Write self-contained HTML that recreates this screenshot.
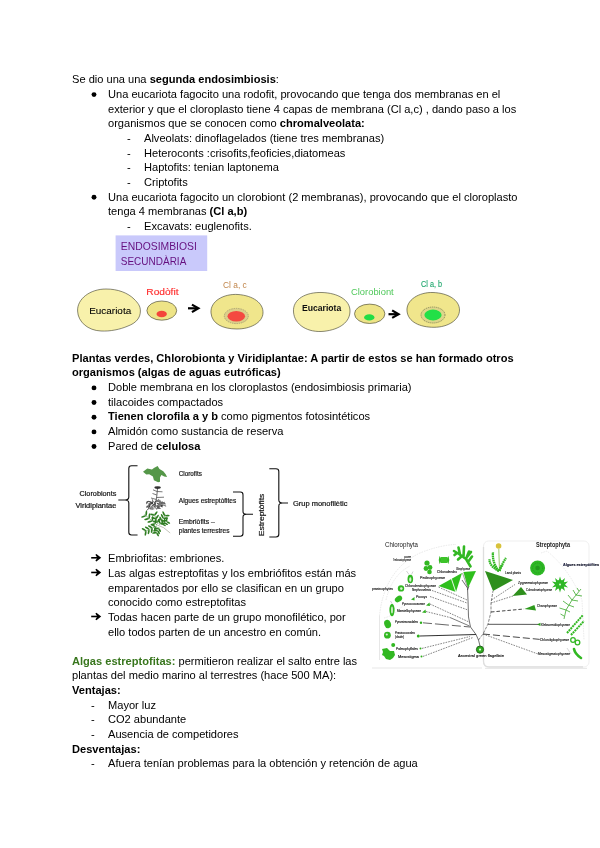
<!DOCTYPE html>
<html><head><meta charset="utf-8"><title>doc</title>
<style>
html,body{margin:0;padding:0;background:#fff;}
body{width:600px;height:848px;position:relative;overflow:hidden;font-family:"Liberation Sans",sans-serif;font-size:11.09px;color:#000;}
.l{position:absolute;will-change:transform;white-space:nowrap;line-height:14px;height:14px;}
b{font-weight:bold;}
.bu{position:absolute;width:4.6px;height:4.6px;border-radius:50%;background:#000;}
svg{position:absolute;left:0;top:0;}
</style></head><body>

<div class="l" id="l0" style="left:72.3px;top:72.16px">Se dio una una <b>segunda endosimbiosis</b>:</div>
<div class="l" id="l1" style="left:108.3px;top:86.83px">Una eucariota fagocito una rodofit, provocando que tenga dos membranas en el</div>
<div class="l" id="l2" style="left:108.3px;top:101.50px">exterior y que el cloroplasto tiene 4 capas de membrana (Cl a,c) , dando paso a los</div>
<div class="l" id="l3" style="left:108.3px;top:116.17px">organismos que se conocen como <b>chromalveolata:</b></div>
<div class="l" id="l4" style="left:144.3px;top:130.84px">Alveolats: dinoflagelados (tiene tres membranas)</div>
<div class="l" id="l5" style="left:144.3px;top:145.51px">Heteroconts :crisofits,feoficies,diatomeas</div>
<div class="l" id="l6" style="left:144.3px;top:160.18px">Haptofits: tenian laptonema</div>
<div class="l" id="l7" style="left:144.3px;top:174.85px">Criptofits</div>
<div class="l" id="l8" style="left:108.3px;top:189.52px">Una eucariota fagocito un clorobiont (2 membranas), provocando que el cloroplasto</div>
<div class="l" id="l9" style="left:108.3px;top:204.19px">tenga 4 membranas <b>(Cl a,b)</b></div>
<div class="l" id="l10" style="left:144.3px;top:218.86px">Excavats: euglenofits.</div>
<div class="l" id="l11" style="left:72.3px;top:350.76px"><b>Plantas verdes, Chlorobionta y Viridiplantae: A partir de estos se han formado otros</b></div>
<div class="l" id="l12" style="left:72.3px;top:365.43px"><b>organismos (algas de aguas eutróficas)</b></div>
<div class="l" id="l13" style="left:108.3px;top:380.10px">Doble membrana en los cloroplastos (endosimbiosis primaria)</div>
<div class="l" id="l14" style="left:108.3px;top:394.77px">tilacoides compactados</div>
<div class="l" id="l15" style="left:108.3px;top:409.44px"><b>Tienen clorofila a y b</b> como pigmentos fotosintéticos</div>
<div class="l" id="l16" style="left:108.3px;top:424.11px">Almidón como sustancia de reserva</div>
<div class="l" id="l17" style="left:108.3px;top:438.78px">Pared de <b>celulosa</b></div>
<div class="l" id="l18" style="left:108.3px;top:551.46px">Embriofitas: embriones.</div>
<div class="l" id="l19" style="left:108.3px;top:566.13px">Las algas estreptofitas y los embriófitos están más</div>
<div class="l" id="l20" style="left:108.3px;top:580.80px">emparentados por ello se clasifican en un grupo</div>
<div class="l" id="l21" style="left:108.3px;top:595.47px">conocido como estreptofitas</div>
<div class="l" id="l22" style="left:108.3px;top:610.14px">Todas hacen parte de un grupo monofilético, por</div>
<div class="l" id="l23" style="left:108.3px;top:624.81px">ello todos parten de un ancestro en común.</div>
<div class="l" id="l24" style="left:72.3px;top:653.76px"><b style="color:#38761d">Algas estreptofitas:</b> permitieron realizar el salto entre las</div>
<div class="l" id="l25" style="left:72.3px;top:668.43px">plantas del medio marino al terrestres (hace 500 MA):</div>
<div class="l" id="l26" style="left:72.3px;top:683.10px"><b>Ventajas:</b></div>
<div class="l" id="l27" style="left:108.3px;top:697.77px">Mayor luz</div>
<div class="l" id="l28" style="left:108.3px;top:712.44px">CO2 abundante</div>
<div class="l" id="l29" style="left:108.3px;top:727.11px">Ausencia de competidores</div>
<div class="l" id="l30" style="left:72.3px;top:741.78px"><b>Desventajas:</b></div>
<div class="l" id="l31" style="left:108.3px;top:756.45px">Afuera tenían problemas para la obtención y retención de agua</div>
<div class="l" style="left:126.6px;top:130.84px">-</div>
<div class="l" style="left:126.6px;top:145.51px">-</div>
<div class="l" style="left:126.6px;top:160.18px">-</div>
<div class="l" style="left:126.6px;top:174.85px">-</div>
<div class="l" style="left:126.6px;top:218.86px">-</div>
<div class="l" style="left:90.6px;top:697.77px">-</div>
<div class="l" style="left:90.6px;top:712.44px">-</div>
<div class="l" style="left:90.6px;top:727.11px">-</div>
<div class="l" style="left:90.6px;top:756.45px">-</div>
<svg width="600" height="848" viewBox="0 0 600 848" font-family="Liberation Sans, sans-serif">
<defs>
<filter id="bl" x="-5%" y="-5%" width="110%" height="110%"><feGaussianBlur stdDeviation="0.45"/></filter>
<filter id="bl2" x="-5%" y="-5%" width="110%" height="110%"><feGaussianBlur stdDeviation="0.6"/></filter>
</defs>
<!-- ENDOSIMBIOSI box -->
<g filter="url(#bl)">
<rect x="115.6" y="235.4" width="91.6" height="35.6" fill="#c9c9fb"/>
<text x="120.8" y="250" font-size="10.6" fill="#65107f" textLength="76" lengthAdjust="spacingAndGlyphs">ENDOSIMBIOSI</text>
<text x="120.8" y="265" font-size="10.6" fill="#65107f" textLength="65.5" lengthAdjust="spacingAndGlyphs">SECUNDÀRIA</text>
</g>
<!-- group 1 -->
<g filter="url(#bl)" stroke="#3a3a2a" stroke-width="0.6">
<path d="M77.6,311 C77,299 90,289 106,289 C118,289 128,293 134,299 C138,303 140.4,306 140.4,311 C140.4,318 136,323 128,326 C120,329.5 110,331.5 101,331 C88,330.5 78,322 77.6,311 Z" fill="#f8f1ab"/>
<ellipse cx="161.8" cy="310.6" rx="14.9" ry="9.6" fill="#eee487"/>
<path d="M211,313 C210,301 224,293.5 238,294.5 C253,295.5 263.5,303 263,313 C262.5,323 250,329 237,329 C223,329 212,324 211,313 Z" fill="#f0e68c"/>
</g>
<g filter="url(#bl)">
<ellipse cx="161.7" cy="314" rx="5.2" ry="3.2" fill="#f4443a"/>
<ellipse cx="236.3" cy="316" rx="12" ry="7.6" fill="#dccf8a" stroke="#8a8468" stroke-width="0.6" stroke-dasharray="1.5 0.8"/>
<ellipse cx="236.3" cy="316.2" rx="8.8" ry="5.2" fill="#f44a40"/>
<text x="89.2" y="314" font-size="8.6" fill="#000" stroke="#000" stroke-width="0.08" textLength="42" lengthAdjust="spacingAndGlyphs">Eucariota</text>
<text x="146.3" y="294.8" font-size="8.6" fill="#ff3030" stroke="#ff3030" stroke-width="0.15" textLength="32.2" lengthAdjust="spacingAndGlyphs">Rodòfit</text>
<text x="223" y="287.8" font-size="8.6" fill="#c0854a" textLength="23.8" lengthAdjust="spacingAndGlyphs">Cl a, c</text>
<path d="M188.00,307.20 H196.80 V309.40 H188.00 Z" fill="#000"/><path d="M200.60,308.30 L192.50,303.70 L191.40,305.40 L196.10,308.30 L191.40,311.20 L192.50,312.90 Z" fill="#000"/>
</g>
<!-- group 2 -->
<g filter="url(#bl)" stroke="#3a3a2a" stroke-width="0.6">
<path d="M293.5,312 C292.5,299 306,292 322,292.5 C338,293 350,300 350,311 C350,322 340,329.5 324,331.3 C308,333 294.5,325 293.5,312 Z" fill="#f8f1ab"/>
<ellipse cx="369.7" cy="313.8" rx="15.2" ry="9.7" fill="#eee487"/>
<path d="M407,311 C406,300 419,292 433,292.5 C448,293 459.5,300 459.5,310 C459.5,320 448,327.3 434,327.3 C420,327.3 408,322 407,311 Z" fill="#f0e68c"/>
</g>
<g filter="url(#bl)">
<ellipse cx="369.3" cy="317.4" rx="5.2" ry="3.1" fill="#22dd44"/>
<ellipse cx="433" cy="315" rx="12" ry="8" fill="#dcd689" stroke="#5a5a40" stroke-width="0.6" stroke-dasharray="1.2 0.8"/>
<ellipse cx="433" cy="315" rx="8.6" ry="5.4" fill="#22e046"/>
<text x="302" y="311.2" font-size="8.6" font-weight="bold" fill="#111" textLength="39.2" lengthAdjust="spacingAndGlyphs">Eucariota</text>
<text x="351" y="294.8" font-size="8.6" fill="#4fc85a" textLength="42.7" lengthAdjust="spacingAndGlyphs">Clorobiont</text>
<text x="421" y="286.7" font-size="8.2" fill="#1fa66c" stroke="#1fa66c" stroke-width="0.12" textLength="21" lengthAdjust="spacingAndGlyphs">Cl a, b</text>
<path d="M388.50,313.10 H397.00 V315.30 H388.50 Z" fill="#000"/><path d="M400.80,314.20 L392.70,309.60 L391.60,311.30 L396.30,314.20 L391.60,317.10 L392.70,318.80 Z" fill="#000"/>
</g>
<!-- bracket diagram -->
<g filter="url(#bl)" fill="none" stroke="#111" stroke-width="1.1">
<path d="M137.5,465.8 H131.5 Q128.8,465.8 128.8,468.5 V497 Q128.8,500 125,500 H118.3 H125 Q128.8,500 128.8,503 V532.3 Q128.8,535 131.5,535 H137.5"/>
<path d="M233,492 H240.3 Q243,492 243,494.7 V511.5 Q243,514.3 246.5,514.3 H253 H246.5 Q243,514.3 243,517 V533.5 Q243,536.2 240.3,536.2 H233"/>
<path d="M269.3,468.8 H276 Q278.8,468.8 278.8,471.5 V500 Q278.8,503 282.5,503 H288 H282.5 Q278.8,503 278.8,506 V534.3 Q278.8,537 276,537 H269.3"/>
</g>
<g filter="url(#bl2)" fill="#111" stroke="#111" stroke-width="0.18" font-size="6.6">
<text x="79.5" y="496.3" textLength="36.8" lengthAdjust="spacingAndGlyphs">Clorobionts</text>
<text x="75.5" y="507.5" textLength="40.8" lengthAdjust="spacingAndGlyphs">Viridiplantae</text>
<text x="178.8" y="475.8" textLength="23" lengthAdjust="spacingAndGlyphs">Clorofits</text>
<text x="178.8" y="502.5" textLength="57.5" lengthAdjust="spacingAndGlyphs">Algues estreptòfites</text>
<text x="178.8" y="523.8" textLength="36" lengthAdjust="spacingAndGlyphs">Embriòfits –</text>
<text x="178.8" y="532.5" textLength="50.7" lengthAdjust="spacingAndGlyphs">plantes terrestres</text>
<text x="293" y="505.8" textLength="54.5" lengthAdjust="spacingAndGlyphs">Grup monofilètic</text>
<text transform="translate(264.3,536.2) rotate(-90)" x="0" y="0" textLength="42.5" lengthAdjust="spacingAndGlyphs">Estreptòfits</text>
</g>
<!-- plant icons -->
<g filter="url(#bl)">
<path d="M143,471.800 L147.300,468.500 L152,469.400 L153.900,468 L157.600,466.100 L159.500,469 L163.300,471.300 L165.700,474.200 L167.100,477 L164.200,476.500 L161.400,475.100 L160,477.500 L160,481.700 L158.100,482.200 L153.900,480.300 L152.900,476.500 L149.200,474.200 L146.300,474.600 Z" fill="#559749"/>
<path d="M157.6,487.500 L156.8,496 L155,507 M155.5,503 L146.5,510.500" stroke="#444" stroke-width="0.8" fill="none"/>
<ellipse cx="157.6" cy="487.6" rx="3.2" ry="1.3" fill="#333"/>
<path d="M157,491.500 L153,489.800 M157,491.500 L162.500,491.800 M156.800,495 L152.500,493.500 M156.600,497.500 L164,497.200 M156.500,499.500 L151,498" stroke="#555" stroke-width="0.8" fill="none"/>
<ellipse cx="158.4" cy="506.5" rx="1.7" ry="0.55" transform="rotate(143 158.4 506.5)" fill="#888"/>
<ellipse cx="159.0" cy="504.5" rx="1.7" ry="0.55" transform="rotate(151 159.0 504.5)" fill="#555"/>
<ellipse cx="159.0" cy="508.1" rx="1.7" ry="0.55" transform="rotate(20 159.0 508.1)" fill="#444"/>
<ellipse cx="163.7" cy="503.1" rx="1.7" ry="0.55" transform="rotate(18 163.7 503.1)" fill="#555"/>
<ellipse cx="151.0" cy="508.2" rx="1.7" ry="0.55" transform="rotate(138 151.0 508.2)" fill="#555"/>
<ellipse cx="158.3" cy="503.7" rx="1.7" ry="0.55" transform="rotate(24 158.3 503.7)" fill="#333"/>
<ellipse cx="149.5" cy="501.5" rx="1.7" ry="0.55" transform="rotate(177 149.5 501.5)" fill="#555"/>
<ellipse cx="151.2" cy="508.6" rx="1.7" ry="0.55" transform="rotate(97 151.2 508.6)" fill="#888"/>
<ellipse cx="158.5" cy="501.2" rx="1.7" ry="0.55" transform="rotate(174 158.5 501.2)" fill="#555"/>
<ellipse cx="151.4" cy="502.9" rx="1.7" ry="0.55" transform="rotate(30 151.4 502.9)" fill="#555"/>
<ellipse cx="150.7" cy="502.7" rx="1.7" ry="0.55" transform="rotate(147 150.7 502.7)" fill="#777"/>
<ellipse cx="152.3" cy="502.4" rx="1.7" ry="0.55" transform="rotate(147 152.3 502.4)" fill="#444"/>
<ellipse cx="160.0" cy="501.3" rx="1.7" ry="0.55" transform="rotate(85 160.0 501.3)" fill="#555"/>
<ellipse cx="161.9" cy="503.0" rx="1.7" ry="0.55" transform="rotate(104 161.9 503.0)" fill="#333"/>
<ellipse cx="154.7" cy="506.2" rx="1.7" ry="0.55" transform="rotate(112 154.7 506.2)" fill="#555"/>
<ellipse cx="147.6" cy="501.8" rx="1.7" ry="0.55" transform="rotate(148 147.6 501.8)" fill="#444"/>
<ellipse cx="152.4" cy="502.9" rx="1.7" ry="0.55" transform="rotate(94 152.4 502.9)" fill="#444"/>
<ellipse cx="147.3" cy="506.6" rx="1.7" ry="0.55" transform="rotate(144 147.3 506.6)" fill="#666"/>
<ellipse cx="147.0" cy="502.7" rx="1.7" ry="0.55" transform="rotate(110 147.0 502.7)" fill="#555"/>
<ellipse cx="152.3" cy="508.3" rx="1.7" ry="0.55" transform="rotate(98 152.3 508.3)" fill="#666"/>
<ellipse cx="159.7" cy="502.4" rx="1.7" ry="0.55" transform="rotate(144 159.7 502.4)" fill="#888"/>
<ellipse cx="148.2" cy="506.0" rx="1.7" ry="0.55" transform="rotate(179 148.2 506.0)" fill="#555"/>
<ellipse cx="157.9" cy="508.3" rx="1.7" ry="0.55" transform="rotate(6 157.9 508.3)" fill="#888"/>
<ellipse cx="157.8" cy="507.3" rx="1.7" ry="0.55" transform="rotate(82 157.8 507.3)" fill="#444"/>
<ellipse cx="158.7" cy="507.1" rx="1.7" ry="0.55" transform="rotate(60 158.7 507.1)" fill="#555"/>
<ellipse cx="147.8" cy="506.5" rx="1.7" ry="0.55" transform="rotate(171 147.8 506.5)" fill="#888"/>
<ellipse cx="164.3" cy="503.4" rx="1.7" ry="0.55" transform="rotate(30 164.3 503.4)" fill="#666"/>
<ellipse cx="148.2" cy="507.5" rx="1.7" ry="0.55" transform="rotate(53 148.2 507.5)" fill="#444"/>
<ellipse cx="164.8" cy="505.4" rx="1.7" ry="0.55" transform="rotate(30 164.8 505.4)" fill="#777"/>
<ellipse cx="154.8" cy="504.1" rx="1.7" ry="0.55" transform="rotate(131 154.8 504.1)" fill="#444"/>
<ellipse cx="150.9" cy="504.0" rx="1.7" ry="0.55" transform="rotate(162 150.9 504.0)" fill="#333"/>
<ellipse cx="153.1" cy="508.9" rx="1.7" ry="0.55" transform="rotate(173 153.1 508.9)" fill="#888"/>
<ellipse cx="148.9" cy="504.2" rx="1.7" ry="0.55" transform="rotate(93 148.9 504.2)" fill="#777"/>
<ellipse cx="163.6" cy="502.9" rx="1.7" ry="0.55" transform="rotate(141 163.6 502.9)" fill="#666"/>
<ellipse cx="159.9" cy="505.8" rx="1.7" ry="0.55" transform="rotate(137 159.9 505.8)" fill="#666"/>
<ellipse cx="157.0" cy="505.8" rx="1.7" ry="0.55" transform="rotate(150 157.0 505.8)" fill="#666"/>
<ellipse cx="161.5" cy="506.1" rx="1.7" ry="0.55" transform="rotate(53 161.5 506.1)" fill="#666"/>
<ellipse cx="159.0" cy="505.0" rx="1.7" ry="0.55" transform="rotate(2 159.0 505.0)" fill="#777"/>
<ellipse cx="161.6" cy="502.6" rx="1.7" ry="0.55" transform="rotate(49 161.6 502.6)" fill="#666"/>
<ellipse cx="162.6" cy="505.7" rx="1.7" ry="0.55" transform="rotate(144 162.6 505.7)" fill="#666"/>
<ellipse cx="150.9" cy="502.8" rx="1.7" ry="0.55" transform="rotate(169 150.9 502.8)" fill="#444"/>
<ellipse cx="152.5" cy="507.5" rx="1.7" ry="0.55" transform="rotate(157 152.5 507.5)" fill="#888"/>
<ellipse cx="154.7" cy="503.0" rx="1.7" ry="0.55" transform="rotate(60 154.7 503.0)" fill="#555"/>
<ellipse cx="156.4" cy="501.1" rx="1.7" ry="0.55" transform="rotate(151 156.4 501.1)" fill="#444"/>
<ellipse cx="159.4" cy="503.5" rx="1.7" ry="0.55" transform="rotate(111 159.4 503.5)" fill="#777"/>
<ellipse cx="156.1" cy="508.4" rx="1.7" ry="0.55" transform="rotate(54 156.1 508.4)" fill="#777"/>
<ellipse cx="161.7" cy="505.6" rx="1.7" ry="0.55" transform="rotate(130 161.7 505.6)" fill="#333"/>
<ellipse cx="149.2" cy="505.1" rx="1.7" ry="0.55" transform="rotate(112 149.2 505.1)" fill="#555"/>
<ellipse cx="149.7" cy="506.0" rx="1.7" ry="0.55" transform="rotate(114 149.7 506.0)" fill="#333"/>
<ellipse cx="155.4" cy="504.7" rx="1.7" ry="0.55" transform="rotate(75 155.4 504.7)" fill="#666"/>
<ellipse cx="153.2" cy="505.3" rx="1.7" ry="0.55" transform="rotate(106 153.2 505.3)" fill="#555"/>
<ellipse cx="160.4" cy="503.1" rx="1.7" ry="0.55" transform="rotate(63 160.4 503.1)" fill="#666"/>
<ellipse cx="159.8" cy="504.7" rx="1.7" ry="0.55" transform="rotate(174 159.8 504.7)" fill="#777"/>
<ellipse cx="158.2" cy="500.4" rx="1.7" ry="0.55" transform="rotate(98 158.2 500.4)" fill="#666"/>
<ellipse cx="152.6" cy="500.7" rx="1.7" ry="0.55" transform="rotate(74 152.6 500.7)" fill="#777"/>
<path d="M170.2,533 Q164,526.500 156,524.500" stroke="#9a9a8a" stroke-width="0.6" fill="none"/>
<ellipse cx="155.7" cy="521.1" rx="2.6" ry="0.9" transform="rotate(-85 155.7 521.1)" fill="#2f7d22"/>
<ellipse cx="152.9" cy="524.4" rx="2.6" ry="0.9" transform="rotate(-195 152.9 524.4)" fill="#2f7d22"/>
<ellipse cx="152.5" cy="518.5" rx="2.6" ry="0.9" transform="rotate(-85 152.5 518.5)" fill="#2f7d22"/>
<ellipse cx="149.8" cy="521.7" rx="2.6" ry="0.9" transform="rotate(-195 149.8 521.7)" fill="#2f7d22"/>
<ellipse cx="149.4" cy="515.8" rx="2.6" ry="0.9" transform="rotate(-85 149.4 515.8)" fill="#2f7d22"/>
<ellipse cx="146.7" cy="519.1" rx="2.6" ry="0.9" transform="rotate(-195 146.7 519.1)" fill="#2f7d22"/>
<ellipse cx="146.3" cy="513.2" rx="2.6" ry="0.9" transform="rotate(-85 146.3 513.2)" fill="#2f7d22"/>
<ellipse cx="143.6" cy="516.5" rx="2.6" ry="0.9" transform="rotate(-195 143.6 516.5)" fill="#2f7d22"/>
<path d="M157.0,525.0 L144.5,514.5" stroke="#2f7d22" stroke-width="0.5" fill="none"/>
<ellipse cx="158.7" cy="520.3" rx="2.4" ry="0.9" transform="rotate(-56 158.7 520.3)" fill="#2f7d22"/>
<ellipse cx="155.0" cy="521.7" rx="2.4" ry="0.9" transform="rotate(-166 155.0 521.7)" fill="#2f7d22"/>
<ellipse cx="157.3" cy="516.8" rx="2.4" ry="0.9" transform="rotate(-56 157.3 516.8)" fill="#2f7d22"/>
<ellipse cx="153.7" cy="518.2" rx="2.4" ry="0.9" transform="rotate(-166 153.7 518.2)" fill="#2f7d22"/>
<ellipse cx="156.0" cy="513.3" rx="2.4" ry="0.9" transform="rotate(-56 156.0 513.3)" fill="#2f7d22"/>
<ellipse cx="152.3" cy="514.7" rx="2.4" ry="0.9" transform="rotate(-166 152.3 514.7)" fill="#2f7d22"/>
<path d="M158.0,524.0 L154.0,513.5" stroke="#2f7d22" stroke-width="0.5" fill="none"/>
<ellipse cx="162.7" cy="523.5" rx="2.5" ry="0.9" transform="rotate(-5 162.7 523.5)" fill="#2f7d22"/>
<ellipse cx="159.2" cy="521.4" rx="2.5" ry="0.9" transform="rotate(-115 159.2 521.4)" fill="#2f7d22"/>
<ellipse cx="164.2" cy="520.8" rx="2.5" ry="0.9" transform="rotate(-5 164.2 520.8)" fill="#2f7d22"/>
<ellipse cx="160.7" cy="518.8" rx="2.5" ry="0.9" transform="rotate(-115 160.7 518.8)" fill="#2f7d22"/>
<ellipse cx="165.7" cy="518.2" rx="2.5" ry="0.9" transform="rotate(-5 165.7 518.2)" fill="#2f7d22"/>
<ellipse cx="162.2" cy="516.2" rx="2.5" ry="0.9" transform="rotate(-115 162.2 516.2)" fill="#2f7d22"/>
<ellipse cx="167.2" cy="515.6" rx="2.5" ry="0.9" transform="rotate(-5 167.2 515.6)" fill="#2f7d22"/>
<ellipse cx="163.7" cy="513.6" rx="2.5" ry="0.9" transform="rotate(-115 163.7 513.6)" fill="#2f7d22"/>
<path d="M159.5,525.0 L165.5,514.5" stroke="#2f7d22" stroke-width="0.5" fill="none"/>
<ellipse cx="153.3" cy="525.4" rx="2.5" ry="0.9" transform="rotate(211 153.3 525.4)" fill="#2f7d22"/>
<ellipse cx="154.9" cy="529.1" rx="2.5" ry="0.9" transform="rotate(101 154.9 529.1)" fill="#2f7d22"/>
<ellipse cx="150.2" cy="526.8" rx="2.5" ry="0.9" transform="rotate(211 150.2 526.8)" fill="#2f7d22"/>
<ellipse cx="151.8" cy="530.5" rx="2.5" ry="0.9" transform="rotate(101 151.8 530.5)" fill="#2f7d22"/>
<ellipse cx="147.1" cy="528.1" rx="2.5" ry="0.9" transform="rotate(211 147.1 528.1)" fill="#2f7d22"/>
<ellipse cx="148.7" cy="531.9" rx="2.5" ry="0.9" transform="rotate(101 148.7 531.9)" fill="#2f7d22"/>
<ellipse cx="143.9" cy="529.5" rx="2.5" ry="0.9" transform="rotate(211 143.9 529.5)" fill="#2f7d22"/>
<ellipse cx="145.6" cy="533.3" rx="2.5" ry="0.9" transform="rotate(101 145.6 533.3)" fill="#2f7d22"/>
<path d="M157.0,526.0 L144.5,531.5" stroke="#2f7d22" stroke-width="0.5" fill="none"/>
<ellipse cx="156.3" cy="528.5" rx="2.2" ry="0.9" transform="rotate(170 156.3 528.5)" fill="#2f7d22"/>
<ellipse cx="159.6" cy="530.0" rx="2.2" ry="0.9" transform="rotate(60 159.6 530.0)" fill="#2f7d22"/>
<ellipse cx="155.3" cy="530.6" rx="2.2" ry="0.9" transform="rotate(170 155.3 530.6)" fill="#2f7d22"/>
<ellipse cx="158.6" cy="532.2" rx="2.2" ry="0.9" transform="rotate(60 158.6 532.2)" fill="#2f7d22"/>
<ellipse cx="154.3" cy="532.8" rx="2.2" ry="0.9" transform="rotate(170 154.3 532.8)" fill="#2f7d22"/>
<ellipse cx="157.6" cy="534.4" rx="2.2" ry="0.9" transform="rotate(60 157.6 534.4)" fill="#2f7d22"/>
<path d="M159.0,527.0 L156.0,533.5" stroke="#2f7d22" stroke-width="0.5" fill="none"/>
<ellipse cx="164.0" cy="524.9" rx="2.1" ry="0.8" transform="rotate(27 164.0 524.9)" fill="#2f7d22"/>
<ellipse cx="162.3" cy="521.8" rx="2.1" ry="0.8" transform="rotate(-83 162.3 521.8)" fill="#2f7d22"/>
<ellipse cx="166.1" cy="523.7" rx="2.1" ry="0.8" transform="rotate(27 166.1 523.7)" fill="#2f7d22"/>
<ellipse cx="164.5" cy="520.7" rx="2.1" ry="0.8" transform="rotate(-83 164.5 520.7)" fill="#2f7d22"/>
<ellipse cx="168.3" cy="522.5" rx="2.1" ry="0.8" transform="rotate(27 168.3 522.5)" fill="#2f7d22"/>
<ellipse cx="166.7" cy="519.5" rx="2.1" ry="0.8" transform="rotate(-83 166.7 519.5)" fill="#2f7d22"/>
<path d="M161.0,524.5 L167.5,521.0" stroke="#2f7d22" stroke-width="0.5" fill="none"/>
</g>
<!-- phylogeny image -->
<g filter="url(#bl2)">
<!-- right panel -->
<rect x="483.5" y="541" width="105.5" height="126" rx="5" ry="5" fill="#fff" stroke="#efefef" stroke-width="1"/><path d="M483.5,547 V661 Q483.5,667 489,667 H583" fill="none" stroke="#dedede" stroke-width="1.3"/>
<path d="M485,668.3 H587" stroke="#e9e9e9" stroke-width="1.2" fill="none"/>
<!-- left panel faint borders -->
<path d="M372,668 H482 M379.500,616 V660" stroke="#e4e4e4" stroke-width="0.9" fill="none"/>
<path d="M379.500,616 Q384,570 420,553 Q440,545 456,544.500" stroke="#d8d8d8" stroke-width="0.6" stroke-dasharray="1.5 1" fill="none"/>
<path d="M386,600 Q392,575 410,566 M384,618 Q396,615 405,603" stroke="#dcdcdc" stroke-width="0.6" stroke-dasharray="1.5 1" fill="none"/>
<path d="M541,553 L547,551 Q570,570 582,600 L584,640" stroke="#dedede" stroke-width="0.6" stroke-dasharray="1.5 1" fill="none"/>
<!-- titles -->
<text x="385" y="546.5" font-size="6.6" fill="#222" textLength="33" lengthAdjust="spacingAndGlyphs">Chlorophyta</text>
<text x="536" y="546.7" font-size="6.6" fill="#222" font-weight="bold" textLength="34" lengthAdjust="spacingAndGlyphs">Streptophyta</text>
<!-- trunk & branches (left) -->
<g stroke="#333" fill="none" stroke-width="0.7">
<path d="M480,646 L478.500,640 L476,634.500 L470.500,627 L468.500,617 L468,600 L467.500,588"/>
<path d="M478.500,640 L483,634 L488,624 L491,612 L491,603 L493,591" stroke-dasharray="3 1.2" stroke-width="0.6"/>
<path d="M467.500,588 L462,580 M467.500,590 L469,586"/>
</g>
<g stroke="#333" fill="none" stroke-width="0.6" stroke-dasharray="1.6 1.1">
<path d="M438.500,587 L467,600"/>
<path d="M432,590.500 L467,603"/>
<path d="M430,596.500 L468,610"/>
<path d="M430,604 L469,622"/>
<path d="M426,611.500 L450,617.500"/>
<path d="M422,648.400 L470,636.500"/>
<path d="M423,656.400 L473,637.500"/>
<path d="M491,603 L513,596"/>
<path d="M491.500,600 L515,584.500"/>
<path d="M483,634 L538,654"/>
</g>
<path d="M450,617.500 L469.500,626" stroke="#444" stroke-width="0.7" fill="none"/>
<path d="M423,622.800 L470,627" stroke="#555" stroke-width="0.9" fill="none" stroke-dasharray="9 3 14 3"/>
<path d="M420,636 L476,634.500" stroke="#333" stroke-width="1.1" fill="none"/>
<path d="M491,612 L524,609" stroke="#333" stroke-width="0.9" fill="none" stroke-dasharray="3.5 2"/>
<path d="M488,624.300 L539,624.400" stroke="#444" stroke-width="0.9" fill="none"/>
<path d="M483,634 L540,639.400" stroke="#333" stroke-width="0.9" fill="none" stroke-dasharray="7 3"/>
<!-- big triangles -->
<path d="M438.600,586 L462,573 L456,592 Z" fill="#2fbf1f"/>
<path d="M463.400,572 L476,571 L468,588 Z" fill="#2fbf1f"/><path d="M451,577.500 L456,592.500" stroke="#fff" stroke-width="0.9" fill="none"/><path d="M462.500,573 L467.800,588" stroke="#444" stroke-width="0.5" fill="none"/>
<path d="M485,571 L513,580 L493,591 Z" fill="#2e8f1c"/>
<path d="M512.600,596 L521,587 L527,594.400 Z" fill="#2e8f1c"/>
<path d="M524.400,609 L534.400,605 L536,610.400 Z" fill="#2e9a1e"/>
<path d="M537,624.400 L540.500,622.800 L540.500,626 Z" fill="#2e9a1e"/>
<!-- small triangles / dots left -->
<path d="M411,599.500 L414.500,597 L414.500,600.500 Z M426,605.500 L429.500,602.500 L430,606 Z M422,612.500 L425.500,609.500 L426,613 Z" fill="#2fae1f"/>
<circle cx="421" cy="622.7" r="1.2" fill="#2fae1f"/><circle cx="418.3" cy="636" r="1.5" fill="#2fae1f"/>
<circle cx="420.500" cy="648.4" r="1" fill="#2fae1f"/><circle cx="421.500" cy="656.4" r="1" fill="#2fae1f"/>
<!-- root -->
<circle cx="480" cy="649.6" r="3.6" fill="#2fae1f" stroke="#1d5a16" stroke-width="0.9"/>
<circle cx="480" cy="649.6" r="1.1" fill="#dff5d8"/>
<!-- organisms left -->
<g fill="#33b824">
<path d="M470.500,566.500 L466,559 L459,554 L454,551 M466,559 L469,551.500 M463.500,557 L464,546.500 M460,554.500 L458.500,547.500 M468,562 L472,556.500 M467,557 L471,552 M462,556 L458,559.500 M457,553 L454.500,555" stroke="#33b824" stroke-width="2.6" stroke-linecap="round" fill="none"/>
<path d="M439.500,556 Q443,560 439.500,564 Q438,560 439.500,556 Z M448.500,556 Q445,560 448.500,564 Q450,560 448.500,556 Z"/>
<rect x="440.800" y="557" width="6.500" height="6" fill="#3cc42c"/>
<circle cx="427" cy="563" r="2.6"/><circle cx="430" cy="567.500" r="2.400"/><circle cx="426" cy="568.500" r="2.400"/><circle cx="429.500" cy="572" r="2.300"/>
<ellipse cx="410.300" cy="579" rx="2.800" ry="4.300"/>
<circle cx="401" cy="588.400" r="3.200"/>
<ellipse cx="398.500" cy="599" rx="4" ry="2.800" transform="rotate(-35 398.500 599)"/>
<ellipse cx="392" cy="610" rx="2.600" ry="6.300"/>
<ellipse cx="387.600" cy="624" rx="3.300" ry="4.300" transform="rotate(-20 387.600 624)"/>
<circle cx="387.400" cy="635.200" r="3.400"/>
<circle cx="393.200" cy="645" r="2"/>
<path d="M382,649 L387,648 L390,651 L394,651 L395,655 L393,658 L390,660 L386,659 L384,656 L382,655 L383,652 Z"/>
</g>
<g fill="#d8f3d0"><ellipse cx="410.300" cy="579.500" rx="1.100" ry="2.300"/><circle cx="401.300" cy="588.600" r="1.300"/><ellipse cx="392" cy="610" rx="0.900" ry="3.500"/><circle cx="386.800" cy="634.500" r="1.100"/></g>
<path d="M409,574.500 L406.500,571 M411.500,574.500 L413,571.500 M392,603.500 L390.500,601" stroke="#888" stroke-width="0.4" fill="none"/>
<!-- organisms right -->
<circle cx="498.600" cy="546" r="2.800" fill="#d8c23a"/>
<path d="M498.800,549 L499.500,571" stroke="#7dbb4a" stroke-width="0.8" fill="none"/>
<g stroke="#33b824" stroke-width="2.3" fill="none" stroke-dasharray="1.700 0.500">
<path d="M499,571 Q492,563 493,552"/><path d="M499,571 Q489,566 489.500,559"/><path d="M499.500,571 Q503,562 506,558"/><path d="M499.500,571 Q500,566 503,565"/><path d="M499,571 Q495,568 494,565"/>
</g>
<circle cx="537.600" cy="568" r="7.500" fill="#2fb826"/>
<circle cx="537.600" cy="568" r="5" fill="none" stroke="#249a1c" stroke-width="0.8" stroke-dasharray="1.2 0.8"/>
<circle cx="537.600" cy="568" r="2.300" fill="#249a1c"/>
<path d="M560,576.400 L561.400,581 L565,578 L563.800,582.300 L568,581.400 L565,584.400 L568,587.400 L563.800,586.500 L565,591 L561.400,588 L560,592.400 L558.600,588 L555,591 L556.200,586.500 L552,587.400 L555,584.400 L552,581.400 L556.200,582.300 L555,578 L558.600,581 Z" fill="#2fb826"/>
<circle cx="560" cy="584.400" r="4.500" fill="#2fb826"/><circle cx="560" cy="584.400" r="1" fill="#dff5d8"/>
<g stroke="#3aa82a" stroke-width="0.8" fill="none">
<path d="M564,619 L566,610 L572,600 L581,589"/><path d="M566,610 L559.500,608 M566,610 L570,612 M568.500,605 L563,601 M568.500,605 L574,607 M572,600 L568,595 M572,600 L578,601 M576,595 L573,590 M576,595 L582,596 M579,591 L577,588 M564,616 L560.500,614"/>
</g>
<path d="M567,633 L583,615 M571,635 L584,621" stroke="#33b824" stroke-width="2" fill="none" stroke-dasharray="2 0.700"/>
<circle cx="573" cy="640" r="2.300" fill="none" stroke="#33b824" stroke-width="1.300"/><circle cx="577.500" cy="642.500" r="2.300" fill="none" stroke="#33b824" stroke-width="1.300"/>
<path d="M574,649 Q575,654 581,658" stroke="#33b824" stroke-width="2.600" fill="none" stroke-linecap="round"/>
<path d="M567,648 L571,654" stroke="#ccc" stroke-width="0.7" fill="none"/>
<!-- labels -->
<g fill="#111" stroke="#111" stroke-width="0.12" font-size="3.600">
<text x="393" y="560.800" textLength="18" lengthAdjust="spacingAndGlyphs">Trebouxiophyceae</text>
<text x="404" y="557.500" textLength="7" lengthAdjust="spacingAndGlyphs">core</text>
<text x="420" y="578.800" textLength="25" lengthAdjust="spacingAndGlyphs">Pedinophyceae</text>
<text x="437" y="573.200" textLength="20" lengthAdjust="spacingAndGlyphs">Chlorodendro</text>
<text x="456" y="569.500" textLength="14" lengthAdjust="spacingAndGlyphs">Ulvophyceae</text>
<text x="405" y="587.200" textLength="31" lengthAdjust="spacingAndGlyphs">Chlorodendrophyceae</text>
<text x="372" y="590.200" textLength="21" lengthAdjust="spacingAndGlyphs">prasinophytes</text>
<text x="412" y="591.200" textLength="19" lengthAdjust="spacingAndGlyphs">Nephroselmis</text>
<text x="416" y="598.200" textLength="11" lengthAdjust="spacingAndGlyphs">Picocys</text>
<text x="402" y="604.600" textLength="23" lengthAdjust="spacingAndGlyphs">Pycnococcaceae</text>
<text x="397" y="612.200" textLength="24" lengthAdjust="spacingAndGlyphs">Mamiellophyceae</text>
<text x="395" y="623.200" textLength="23" lengthAdjust="spacingAndGlyphs">Pyramimonadales</text>
<text x="395" y="633.700" textLength="20" lengthAdjust="spacingAndGlyphs">Prasinococcales</text>
<text x="395" y="637.700" textLength="9" lengthAdjust="spacingAndGlyphs">(clade)</text>
<text x="396" y="649.600" textLength="22" lengthAdjust="spacingAndGlyphs">Palmophyllales</text>
<text x="398" y="658.200" textLength="21" lengthAdjust="spacingAndGlyphs">Mesostigma</text>
<text x="458" y="656.600" textLength="46" lengthAdjust="spacingAndGlyphs">Ancestral green flagellate</text>
<text x="505" y="573.800" textLength="16" lengthAdjust="spacingAndGlyphs">Land plants</text>
<text x="518" y="583.800" textLength="30" lengthAdjust="spacingAndGlyphs">Zygnematophyceae</text>
<text x="526" y="590.600" textLength="26" lengthAdjust="spacingAndGlyphs">Coleochaetophyceae</text>
<text x="537" y="607.200" textLength="20" lengthAdjust="spacingAndGlyphs">Charophyceae</text>
<text x="541" y="625.600" textLength="29" lengthAdjust="spacingAndGlyphs">Klebsormidiophyceae</text>
<text x="540" y="640.600" textLength="29" lengthAdjust="spacingAndGlyphs">Chlorokybophyceae</text>
<text x="538" y="655.200" textLength="32" lengthAdjust="spacingAndGlyphs">Mesostigmatophyceae</text>
<text x="563" y="566.200" textLength="36" lengthAdjust="spacingAndGlyphs" fill="#101540" font-weight="bold">Algues estreptòfites</text>
</g>
</g>
<g filter="url(#bl)"><path d="M91.2,557.00 H98 V558.60 H91.2 Z" fill="#000"/><path d="M101.2,557.80 L96.4,554.10 L95.4,554.80 L97.3,557.80 L95.4,560.80 L96.4,561.50 Z" fill="#000"/><path d="M91.2,571.67 H98 V573.27 H91.2 Z" fill="#000"/><path d="M101.2,572.47 L96.4,568.77 L95.4,569.47 L97.3,572.47 L95.4,575.47 L96.4,576.17 Z" fill="#000"/><path d="M91.2,615.68 H98 V617.28 H91.2 Z" fill="#000"/><path d="M101.2,616.48 L96.4,612.78 L95.4,613.48 L97.3,616.48 L95.4,619.48 L96.4,620.18 Z" fill="#000"/></g><g filter="url(#bl)"><circle cx="94" cy="94.62" r="2.45" fill="#000"/><circle cx="94" cy="197.31" r="2.45" fill="#000"/><circle cx="94" cy="387.89" r="2.45" fill="#000"/><circle cx="94" cy="402.56" r="2.45" fill="#000"/><circle cx="94" cy="417.23" r="2.45" fill="#000"/><circle cx="94" cy="431.90" r="2.45" fill="#000"/><circle cx="94" cy="446.57" r="2.45" fill="#000"/></g>
</svg>

</body></html>
